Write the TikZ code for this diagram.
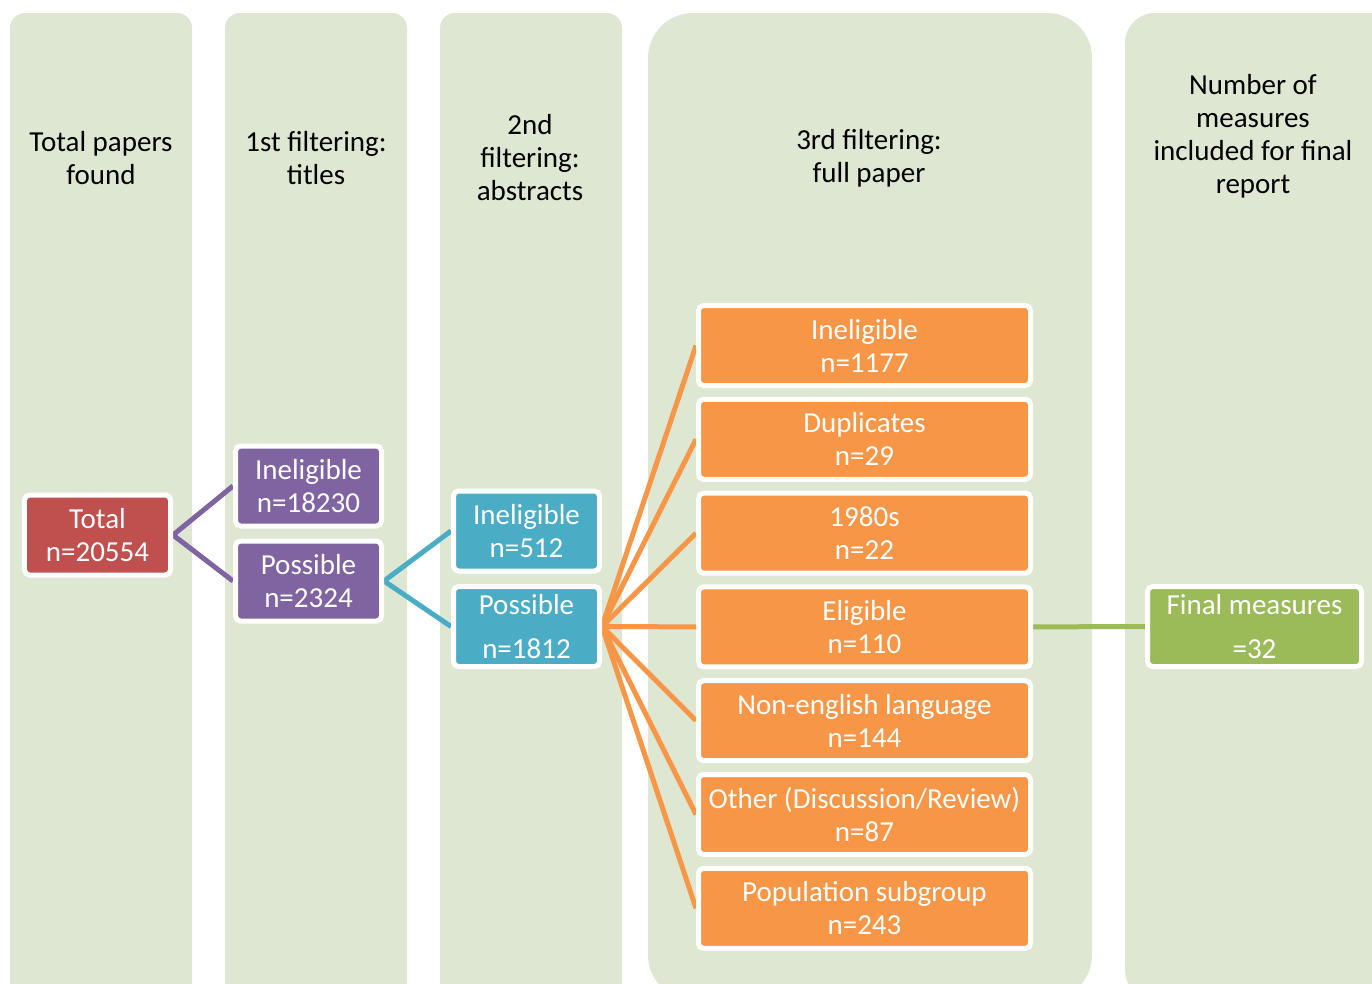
\documentclass[tikz,border=0pt]{standalone}
\usepackage{fontspec}
\setmainfont{Carlito}
\usetikzlibrary{backgrounds}
\definecolor{LaneClr}{HTML}{DEE7D1}
\definecolor{TotalClr}{HTML}{C0504D}
\definecolor{TitleClr}{HTML}{8064A2}
\definecolor{AbstrClr}{HTML}{4BACC6}
\definecolor{PaperClr}{HTML}{F79646}
\definecolor{FinalClr}{HTML}{9BBB59}

\tikzset{
  lane/.style={fill=LaneClr,rounded corners=15bp},
  box/.style={draw=white,line width=5bp,rounded corners=5bp,text=white,align=center,
    minimum width=146bp,minimum height=80bp,inner sep=0pt,
    font=\fontsize{29bp}{33bp}\selectfont},
  head/.style={align=center,text=black,font=\fontsize{29bp}{33bp}\selectfont},
  link/.style={line width=5bp,line join=round}
}

\begin{document}
\begin{tikzpicture}[x=1bp,y=-1bp]
\useasboundingbox (0,0) rectangle (1372,983);

% lanes
\begin{pgfonlayer}{background}
\fill[lane] (10,13) rectangle (192,1000);
\fill[lane] (225,13) rectangle (407,1000);
\fill[lane] (440,13) rectangle (622,1000);
\fill[lane,rounded corners=45bp] (648,13) rectangle (1092,1000);
\fill[lane,rounded corners=30bp] (1125,13) rectangle (1420,1000);
\end{pgfonlayer}

% headings
\node[head] (h1) at (101,158) {Total papers\\found};
\node[head] (h2) at (316,158) {1st filtering:\\titles};
\node[head] (h3) at (530,158) {2nd\\filtering:\\abstracts};
\node[head] (h4) at (869,158) {3rd filtering:\\full paper};
\node[head] (h5) at (1253,136) {Number of\\measures\\included for final\\report};

% boxes
\node[box,fill=TotalClr] (tot) at (97.5,535) {Total\\n=20554};
\node[box,fill=TitleClr] (t-in) at (308.5,486) {Ineligible\\n=18230};
\node[box,fill=TitleClr] (t-po) at (308.5,581) {Possible\\n=2324};
\node[box,fill=AbstrClr] (a-in) at (526.5,531) {Ineligible\\n=512};
\node[box,fill=AbstrClr] (a-po) at (526.5,626.5) {Possible\\[11bp]n=1812};

\foreach \txt [count=\i] in {{Ineligible\\n=1177},{Duplicates\\n=29},{1980s\\n=22},
    {Eligible\\n=110},{Non-english language\\n=144},{Other (Discussion/Review)\\n=87},
    {Population subgroup\\n=243}}
  \node[box,fill=PaperClr,minimum width=332bp] (p\i) at (864.5,{345.5+93.8*(\i-1)}) {\txt};

\node[box,fill=FinalClr,minimum width=214bp] (fin) at (1254.5,626.5) {Final measures\\[11bp]=32};

% links
\begin{pgfonlayer}{background}
\draw[link,TitleClr] (t-in.west) -- (tot.east) -- (t-po.west);
\draw[link,AbstrClr] (a-in.west) -- (t-po.east) -- (a-po.west);
\foreach \i in {1,...,7}
  \draw[link,PaperClr] (a-po.east) -- (p\i.west);
\draw[link,FinalClr] (p4.east) -- (fin.west);
\end{pgfonlayer}

\end{tikzpicture}
\end{document}
